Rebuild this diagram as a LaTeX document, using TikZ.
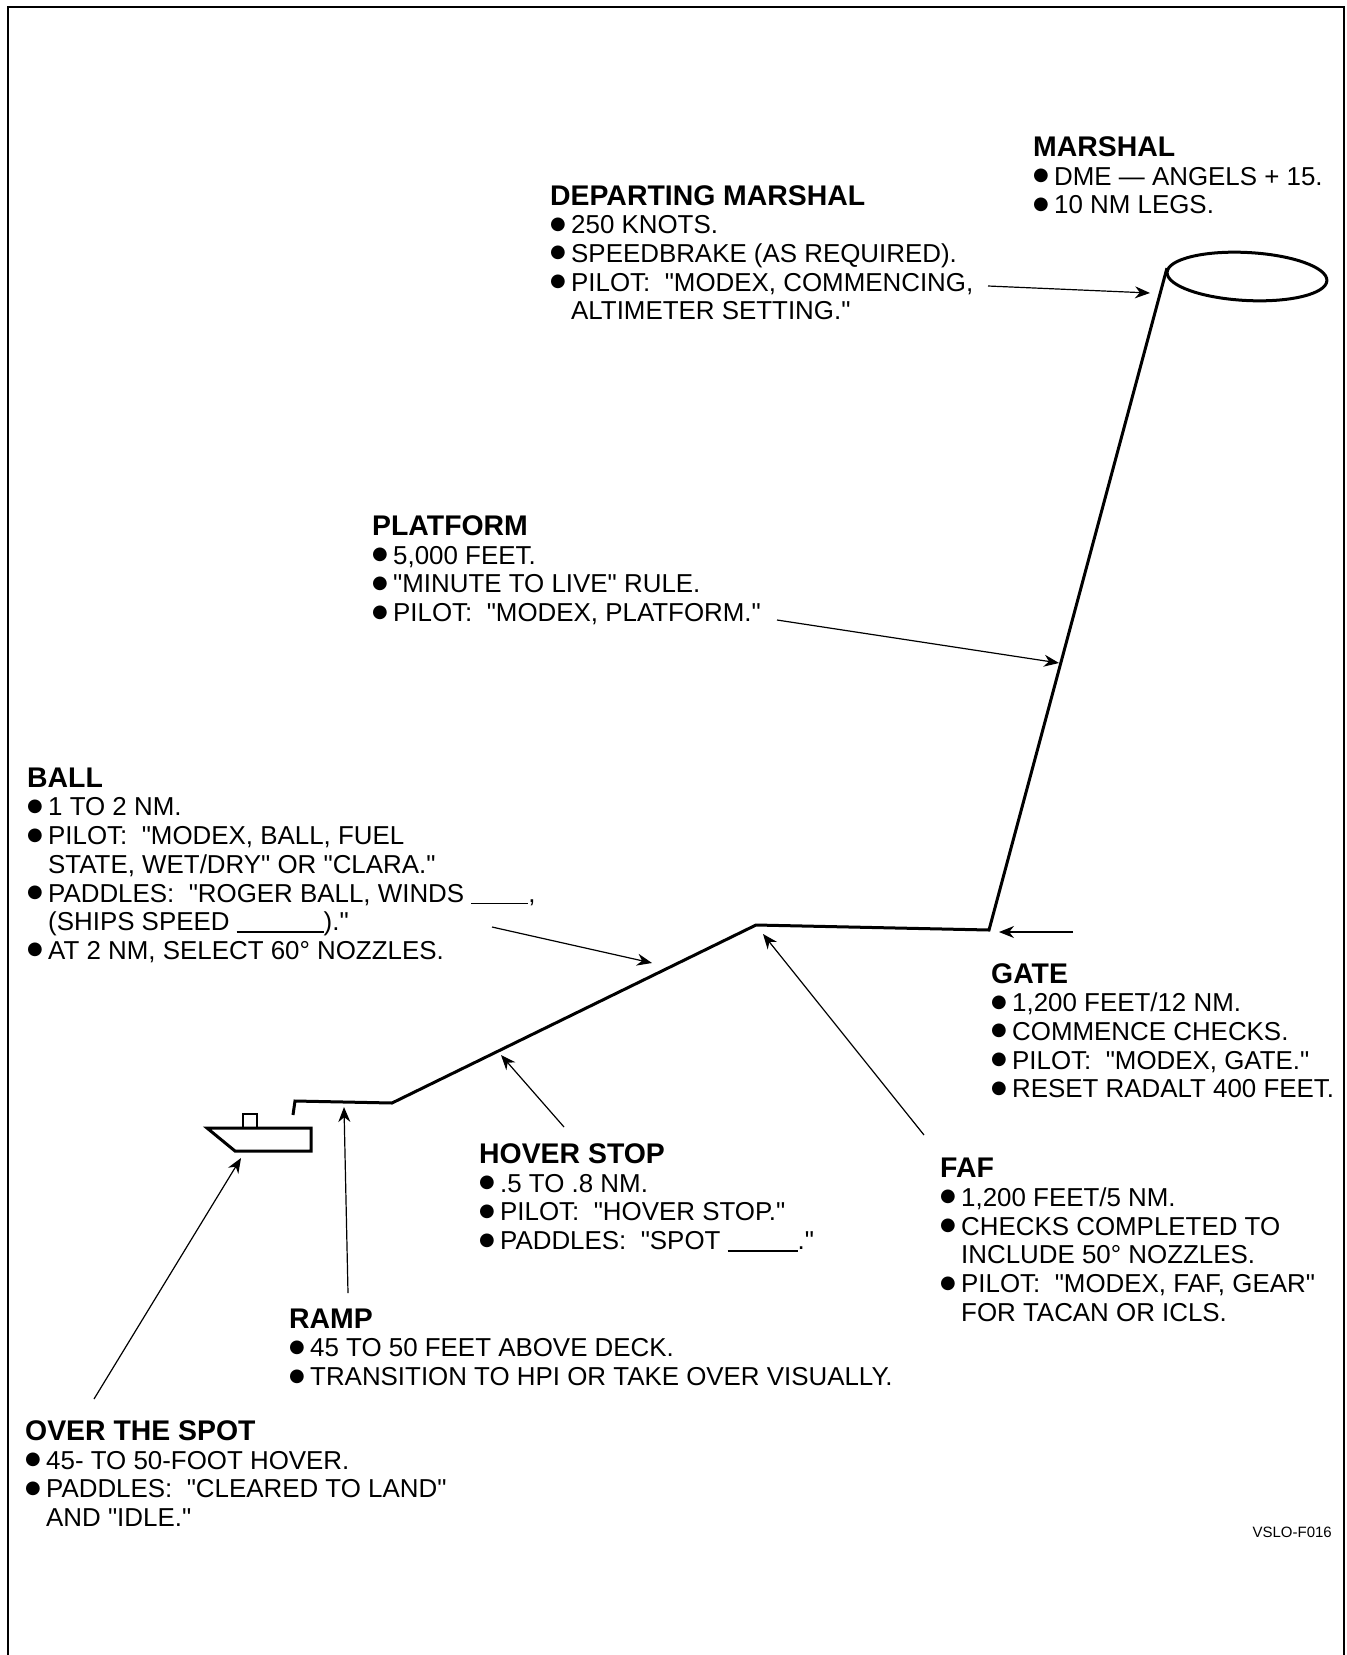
\documentclass[tikz,border=0pt]{standalone}
\usepackage{fontspec}
\newfontfamily\labelfont{Liberation Sans}
\newfontfamily\bulfont{DejaVu Sans}
\usetikzlibrary{shapes.geometric, arrows.meta, positioning}
\tikzstyle{note}  = [anchor=north west, inner sep=0pt, align=left,
                     font=\labelfont\fontsize{25.9}{28.7}\selectfont]
\tikzstyle{track} = [line width=3pt, line join=miter]
\tikzstyle{arrow} = [line width=1.2pt, -{Stealth[length=15pt,width=12pt]}]
\newcommand{\heading}[1]{{\bfseries\fontsize{28.4}{28.7}\selectfont #1}}
\newcommand{\bul}{\makebox[21pt][l]{\raisebox{4.5pt}{\bulfont\fontsize{18}{18}\selectfont ●}}}
\newcommand{\cont}{\hspace*{21pt}}
\newcommand{\blank}[1]{\rule[-2pt]{#1}{1.5pt}}

\begin{document}
\begin{tikzpicture}[x=1pt, y=-1pt]
  \useasboundingbox (0,0) rectangle (1347,1655);
  \draw[line width=2.5pt] (8,1655) -- (8,7) -- (1344,7) -- (1344,1655);

  \node[note] (marshal) at (1033,136.5) {\heading{MARSHAL}\\ \bul DME — ANGELS + 15.\\ \bul 10 NM LEGS.};
  \node[note] (depart) at (550,185) {\heading{DEPARTING MARSHAL}\\ \bul 250 KNOTS.\\ \bul SPEEDBRAKE (AS REQUIRED).\\
    \bul PILOT:\ \ "MODEX, COMMENCING,\\ \cont ALTIMETER SETTING."};
  \node[note] (platform) at (372,515.5) {\heading{PLATFORM}\\ \bul 5,000 FEET.\\ \bul "MINUTE TO LIVE" RULE.\\
    \bul PILOT:\ \ "MODEX, PLATFORM."};
  \node[note] (ball) at (27,767.5) {\heading{BALL}\\ \bul 1 TO 2 NM.\\ \bul PILOT:\ \ "MODEX, BALL, FUEL\\
    \cont STATE, WET/DRY" OR "CLARA."\\ \bul PADDLES:\ \ "ROGER BALL, WINDS \blank{57pt},\\
    \cont (SHIPS SPEED \blank{87pt})."\\ \bul AT 2 NM, SELECT 60° NOZZLES.};
  \node[note] (gate) at (991,963) {\heading{GATE}\\ \bul 1,200 FEET/12 NM.\\ \bul COMMENCE CHECKS.\\
    \bul PILOT:\ \ "MODEX, GATE."\\ \bul RESET RADALT 400 FEET.};
  \node[note] (faf) at (940,1158) {\heading{FAF}\\ \bul 1,200 FEET/5 NM.\\ \bul CHECKS COMPLETED TO\\
    \cont INCLUDE 50° NOZZLES.\\ \bul PILOT:\ \ "MODEX, FAF, GEAR"\\ \cont FOR TACAN OR ICLS.};
  \node[note] (hover) at (479,1143.5) {\heading{HOVER STOP}\\ \bul .5 TO .8 NM.\\ \bul PILOT:\ \ "HOVER STOP."\\
    \bul PADDLES:\ \ "SPOT \blank{70pt}."};
  \node[note] (ramp) at (289,1308.5) {\heading{RAMP}\\ \bul 45 TO 50 FEET ABOVE DECK.\\ \bul TRANSITION TO HPI OR TAKE OVER VISUALLY.};
  \node[note] (spot) at (25,1420.5) {\heading{OVER THE SPOT}\\ \bul 45- TO 50-FOOT HOVER.\\ \bul PADDLES:\ \ "CLEARED TO LAND"\\
    \cont AND "IDLE."};
  \node[anchor=east, inner sep=0pt, font=\labelfont\fontsize{15}{15}\selectfont] (figid) at (1332,1532) {VSLO-F016};

  \node[ellipse, draw, line width=3pt, minimum width=160pt, minimum height=48pt, inner sep=0pt, rotate=-3] (stack) at (1247,276.5) {};
  \coordinate (hook)   at (293,1115);
  \coordinate (corner) at (295,1101);
  \coordinate (start)  at (392,1103);
  \coordinate (apex)   at (756,925);
  \coordinate (bend)   at (989,930);
  \draw[track] (hook) -- (corner) -- (start) -- (apex) -- (bend) -- (stack.177);

  \coordinate (bowa) at (207,1128);
  \coordinate (bowb) at (311,1128);
  \coordinate (bowc) at (311,1151);
  \coordinate (bowd) at (235,1151);
  \draw[line width=3pt] (bowa) -- (bowb) -- (bowc) -- (bowd) -- cycle;
  \node[draw, line width=2.5pt, minimum width=14pt, minimum height=14pt, inner sep=0pt] (cabin) at (250,1121) {};

  \coordinate (departtail) at (988,286);   \coordinate (departhead) at (1150,293);
  \coordinate (platftail)  at (777,620);   \coordinate (platfhead)  at (1059,663);
  \coordinate (balltail)   at (492,927);   \coordinate (ballhead)   at (652,963);
  \coordinate (gatetail)   at (1073,932);  \coordinate (gatehead)   at (999,932);
  \coordinate (faftail)    at (924,1135);  \coordinate (fafhead)    at (763,934);
  \coordinate (hovertail)  at (564,1127);  \coordinate (hoverhead)  at (501,1055);
  \coordinate (ramptail)   at (348,1293);  \coordinate (ramphead)   at (344,1107);
  \coordinate (spottail)   at (94,1399);   \coordinate (spothead)   at (241,1158);

  \draw[arrow] (departtail) -- (departhead);
  \draw[arrow] (platftail)  -- (platfhead);
  \draw[arrow] (balltail)   -- (ballhead);
  \draw[arrow] (gatetail)   -- (gatehead);
  \draw[arrow] (faftail)    -- (fafhead);
  \draw[arrow] (hovertail)  -- (hoverhead);
  \draw[arrow] (ramptail)   -- (ramphead);
  \draw[arrow] (spottail)   -- (spothead);
\end{tikzpicture}
\end{document}
